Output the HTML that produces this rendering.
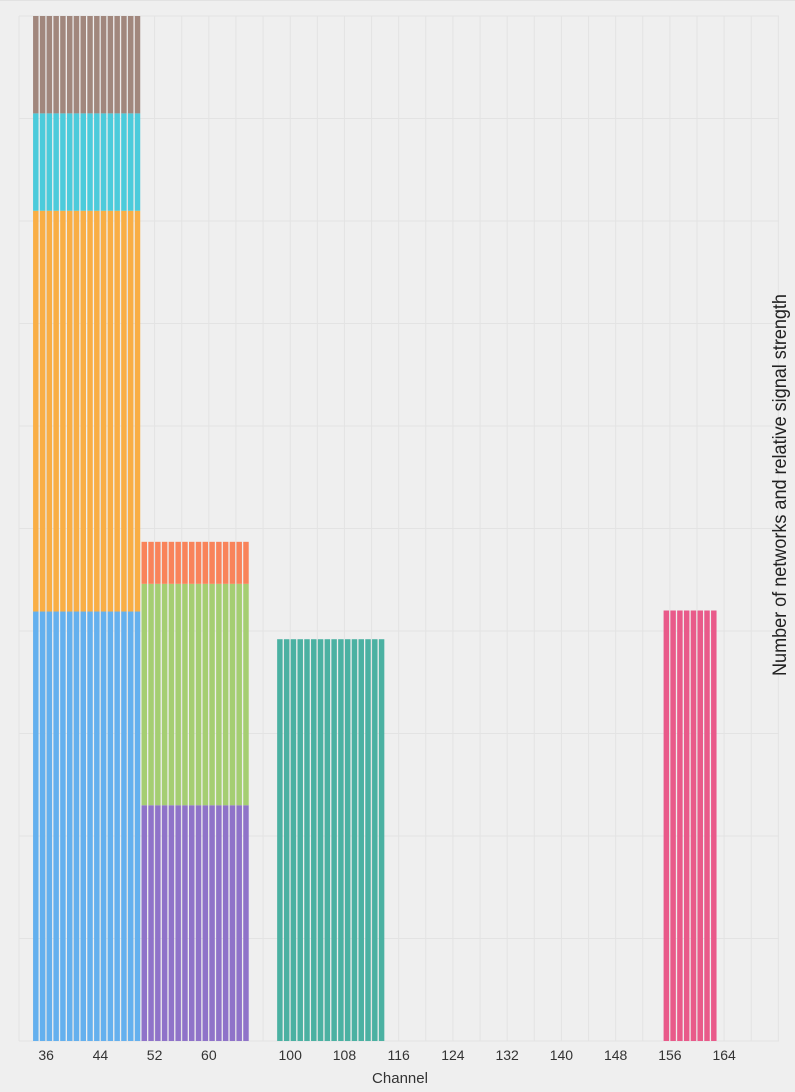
<!DOCTYPE html>
<html><head><meta charset="utf-8">
<style>
html,body{margin:0;padding:0;background:#efefef;}
svg{display:block;font-family:"Liberation Sans",sans-serif;}
</style></head>
<body>
<svg id="chart" width="795" height="1092" viewBox="0 0 795 1092">
<rect x="0" y="0" width="795" height="1092" fill="#efefef"/>
<line x1="0" y1="0.5" x2="795" y2="0.5" stroke="#e2e2e2"/>
<g id="grid"></g>
<g id="bars"></g>
<g id="xticks"></g>
<text x="400" y="1083" text-anchor="middle" font-size="15" fill="#333">Channel</text>
<text transform="translate(786,485) rotate(-90) scale(0.95,1)" text-anchor="middle" font-size="19" fill="#222">Number of networks and relative signal strength</text>
</svg>
<script>
// channel slots (categorical axis)
const channels = [];
for (let c = 32; c <= 67; c++) channels.push(c);
for (let c = 96; c <= 172; c++) channels.push(c);
const tickLabels = [36,44,52,60,100,108,116,124,132,140,148,156,164];
// networks: first channel, width (channels), stacked base and top values
const netNames = ["net-a","net-b","net-c","net-d","net-e","net-f","net-g","net-h","net-i"];
const netStart = [34,34,34,34,50,50,50,98,155];
const netWidth = [16,16,16,16,16,16,16,16,8];
const netBase  = [0,4.19,8.1,9.05,0,2.3,4.46,0,0];
const netTop   = [4.19,8.1,9.05,10,2.3,4.46,4.87,3.92,4.2];
const netColor = ["#64b0ee","#f9ae45","#4ccbdb","#a1877d","#8f73c9","#a5ce72","#f9835a","#4bb1a2","#e95a8a"];
const yMax = 10;

const L=19,R=779,T=16,B=1041;
const slotW=6.78;
const xPos = ch => L + channels.indexOf(ch)*slotW;
const yPos = v => B - (v/yMax)*(B-T);
const NS="http://www.w3.org/2000/svg";
const grid=document.getElementById('grid'), bars=document.getElementById('bars'), xt=document.getElementById('xticks');

for (let i=0;i*slotW<=R-L+1;i+=4){
  const x=L+i*slotW;
  const l=document.createElementNS(NS,'line');
  l.setAttribute('x1',x);l.setAttribute('x2',x);l.setAttribute('y1',T);l.setAttribute('y2',B);
  l.setAttribute('stroke','#e3e3e3');
  
  
  grid.appendChild(l);
}
for (let v=0; v<=yMax; v++){
  const y=yPos(v);
  const l=document.createElementNS(NS,'line');
  l.setAttribute('x1',L);l.setAttribute('x2',R);l.setAttribute('y1',y);l.setAttribute('y2',y);
  l.setAttribute('stroke','#e3e3e3');
  
  
  grid.appendChild(l);
}
for (let n=0;n<netNames.length;n++){
  for (let k=0;k<netWidth[n];k++){
    const ch=netStart[n]+k;
    const x=xPos(ch);
    const r=document.createElementNS(NS,'rect');
    r.setAttribute('x',x+0.5);
    r.setAttribute('width',slotW-1.3);
    r.setAttribute('y',yPos(netTop[n]));
    r.setAttribute('height',yPos(netBase[n])-yPos(netTop[n]));
    r.setAttribute('fill',netColor[n]);
    
    
    bars.appendChild(r);
  }
}
tickLabels.forEach(t=>{
  const tx=document.createElementNS(NS,'text');
  tx.setAttribute('x',xPos(t));
  tx.setAttribute('y',1060);
  tx.setAttribute('text-anchor','middle');
  tx.setAttribute('font-size','14');
  tx.setAttribute('fill','#333');
  tx.textContent=t;
  
  
  xt.appendChild(tx);
});
</script>
</body></html>
